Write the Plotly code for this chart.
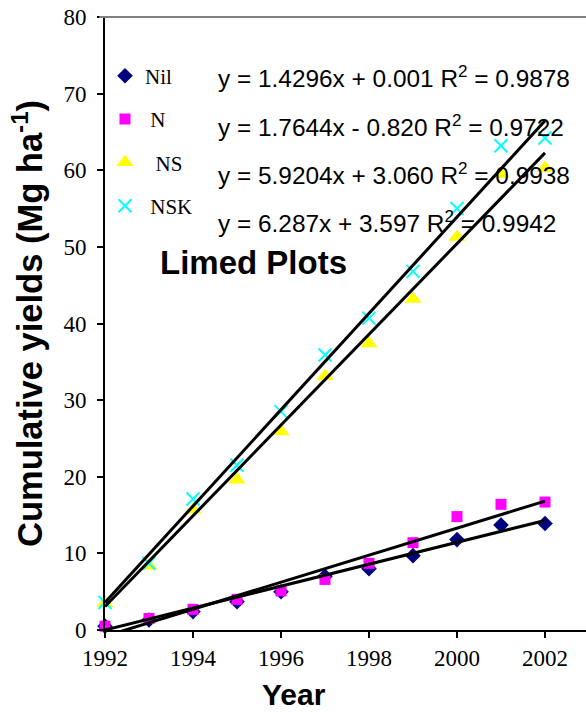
import plotly.graph_objects as go

# ---- data ----
years = [1992, 1993, 1994, 1995, 1996, 1997, 1998, 1999, 2000, 2001, 2002]
nil = [0.5, 1.3, 2.4, 3.7, 5.0, 7.0, 8.0, 9.7, 11.8, 13.7, 13.9]
n_vals = [0.5, 1.5, 2.7, 4.0, 5.1, 6.6, 8.7, 11.4, 14.8, 16.4, 16.7]
ns = [3.5, 8.4, 15.7, 19.6, 25.9, 33.1, 37.4, 43.2, 51.3, 59.5, 60.3]
nsk = [3.6, 8.7, 17.1, 21.5, 28.5, 35.9, 40.7, 46.8, 55.0, 63.2, 64.2]

series_names = ["Nil", "N", "NS", "NSK"]
legend_labels = ["Nil", "\u00a0N", "\u00a0\u00a0NS", "\u00a0NSK"]
slopes = [1.4296, 1.7644, 5.9204, 6.287]
intercepts = [0.001, -0.820, 3.060, 3.597]
r2 = [0.9878, 0.9722, 0.9938, 0.9942]
eq_slope_txt = ["1.4296", "1.7644", "5.9204", "6.287"]
eq_int_txt = ["+ 0.001", "- 0.820", "+ 3.060", "+ 3.597"]

x_ticks = [1992, 1994, 1996, 1998, 2000, 2002]
y_ticks = [0, 10, 20, 30, 40, 50, 60, 70, 80]

# ---- styles ----
colors = ["#000080", "#FF00FF", "#FFFF00", "#00FFFF"]
symbols = ["diamond", "square", "triangle-up", "x-thin"]
sizes = [12, 11, 15, 13]
SERIF = "Times New Roman, Liberation Serif, serif"
SANS = "Arial, Liberation Sans, sans-serif"

fig = go.Figure()
all_series = [nil, n_vals, ns, nsk]
for i, vals in enumerate(all_series):
    marker = dict(color=colors[i], symbol=symbols[i], size=sizes[i])
    if symbols[i] == "x-thin":
        marker["line"] = dict(color=colors[i], width=2)
    else:
        marker["line"] = dict(width=0)
    fig.add_trace(go.Scatter(
        x=years, y=vals, mode="markers", name=legend_labels[i],
        marker=marker, cliponaxis=False, legendgroup=series_names[i],
    ))

# trend lines (fitted with x = 0 at 1992)
for i in range(4):
    idx = [y - years[0] for y in years]
    fit = [slopes[i] * k + intercepts[i] for k in idx]
    fig.add_trace(go.Scatter(
        x=years, y=fit, mode="lines", line=dict(color="black", width=3),
        showlegend=False, hoverinfo="skip",
    ))

# equation labels
eq_y = [0.902, 0.822, 0.744, 0.666]
for i in range(4):
    fig.add_annotation(
        xref="paper", yref="paper", x=(216 - 105) / 481, y=eq_y[i], xanchor="left", yanchor="middle",
        text=f"y = {eq_slope_txt[i]}x {eq_int_txt[i]} R<sup>2</sup> = {r2[i]:.4f}",
        showarrow=False, font=dict(family=SANS, size=24.4, color="black"),
    )

fig.add_annotation(
    xref="paper", yref="paper", x=0.308, y=0.600, xanchor="center", yanchor="middle",
    text="<b>Limed Plots</b>", showarrow=False, font=dict(family=SANS, size=33, color="black"),
)

# axis titles
fig.add_annotation(
    xref="paper", yref="paper", x=(294 - 105) / 481, y=(630 - 694) / 613,
    xanchor="center", yanchor="middle", text="<b>Year</b>", showarrow=False,
    font=dict(family=SANS, size=30, color="black"),
)
fig.add_annotation(
    xref="paper", yref="paper", x=(27 - 105) / 481, y=(630 - 324) / 613,
    xanchor="center", yanchor="middle", textangle=-90,
    text="<b>Cumulative yields (Mg ha<sup>-1</sup>)</b>", showarrow=False,
    font=dict(family=SANS, size=34.5, color="black"),
)

# top border of the plot area
fig.add_shape(type="line", xref="paper", yref="paper", x0=-0.012, x1=1, y0=1, y1=1,
              line=dict(color="#808080", width=2))

fig.update_layout(
    width=586, height=712,
    margin=dict(l=105, r=0, t=17, b=82),
    plot_bgcolor="white", paper_bgcolor="white",
    showlegend=True,
    legend=dict(x=0.0, y=0.937, xanchor="left", yanchor="top",
                font=dict(family=SERIF, size=21, color="black"),
                bgcolor="rgba(0,0,0,0)", tracegroupgap=13, itemsizing="trace"),
    xaxis=dict(range=[1992, 1992 + 481 / 44], tickvals=x_ticks, ticktext=[str(t) for t in x_ticks],
               showgrid=False, zeroline=False, showline=True, linecolor="black", linewidth=2,
               ticks="outside", ticklen=6, tickcolor="black", tickwidth=1.5,
               tickfont=dict(family=SERIF, size=23, color="black")),
    yaxis=dict(range=[0, 80], tickvals=y_ticks, showgrid=False, zeroline=False,
               showline=True, linecolor="black", linewidth=2,
               ticks="outside", ticklen=6, tickcolor="black", tickwidth=1.5,
               ticklabelstandoff=6,
               tickfont=dict(family=SERIF, size=23, color="black")),
)

fig.write_html("out.html", config={"displayModeBar": False},
               post_script="document.body.style.margin='0';document.body.style.overflow='hidden';")
